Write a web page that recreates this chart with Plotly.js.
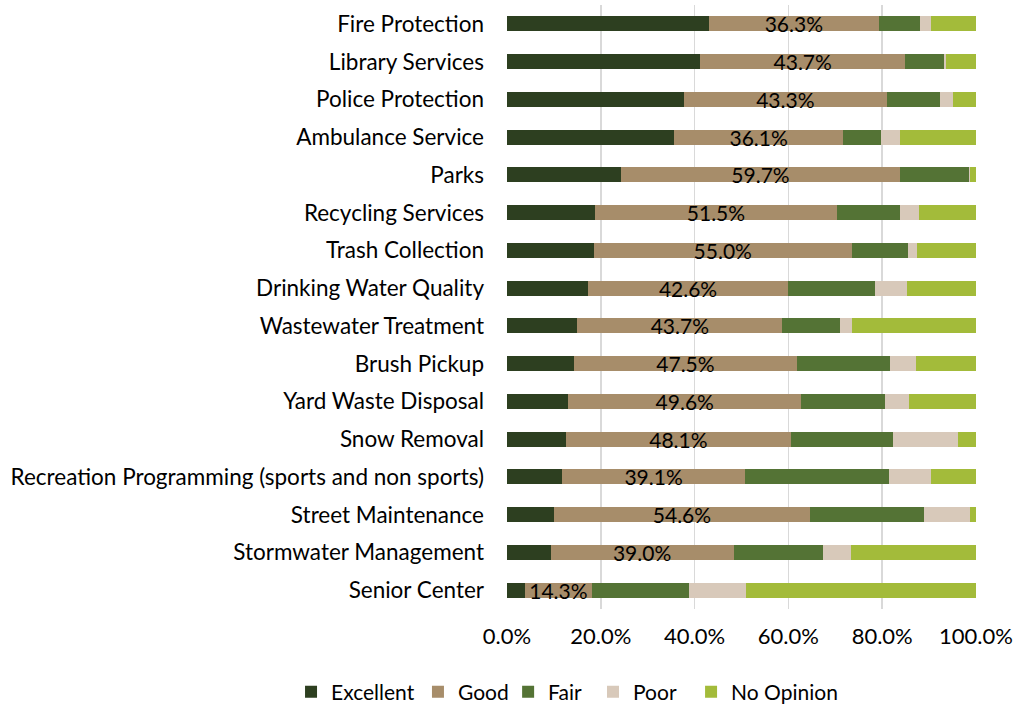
<!DOCTYPE html>
<html><head><meta charset="utf-8">
<script src="https://cdn.plot.ly/plotly-3.0.1.min.js"></script>
<style>body{margin:0;background:#fff}#chart{width:1013px;height:704px}</style>
</head><body><div id="chart"></div>
<script>
const categories = ["Fire Protection","Library Services","Police Protection","Ambulance Service","Parks","Recycling Services","Trash Collection","Drinking Water Quality","Wastewater Treatment","Brush Pickup","Yard Waste Disposal","Snow Removal","Recreation Programming (sports and non sports)","Street Maintenance","Stormwater Management","Senior Center"];
const excellent = [43.0,41.2,37.7,35.6,24.2,18.8,18.5,17.3,15.0,14.3,13.1,12.5,11.7,10.0,9.3,3.8];
const good      = [36.3,43.7,43.3,36.1,59.7,51.5,55.0,42.6,43.7,47.5,49.6,48.1,39.1,54.6,39.0,14.3];
const fair      = [8.8,8.3,11.4,8.1,14.5,13.4,12.1,18.6,12.2,19.9,18.0,21.8,30.6,24.4,19.0,20.6];
const poor      = [2.2,0.5,2.6,3.9,0.3,4.2,1.8,6.8,2.7,5.6,5.1,13.8,9.1,9.7,6.0,12.3];
const noOpinion = [9.7,6.3,5.0,16.3,1.3,12.1,12.5,14.7,26.4,12.7,14.2,3.8,9.5,1.2,26.7,49.0];
const seriesNames = ["Excellent","Good","Fair","Poor","No Opinion"];
const tickValues = [0,20,40,60,80,100];
const tickLabels = ["0.0%","20.0%","40.0%","60.0%","80.0%","100.0%"];
const colors = ["#2d3f20","#a78d6a","#547335","#d8c9ba","#a3bb3a"];
const FONT = "Lato, 'Open Sans', sans-serif";
const series = [excellent, good, fair, poor, noOpinion];
const legendIds = ['legend','legend2','legend3','legend4','legend5'];
const legendX = [0.2873, 0.4126, 0.5016, 0.5854, 0.6822];
const traces = series.map((vals, i) => {
  const t = {
    type: 'bar', orientation: 'h', name: seriesNames[i],
    x: vals, y: categories, width: 0.4,
    marker: {color: colors[i], line: {width: 0}},
    hoverinfo: 'x+y+name', legend: legendIds[i]
  };
  if (i === 1) {
    t.texttemplate = '%{x:.1f}%';
    t.textposition = 'inside';
    t.insidetextanchor = 'middle';
    t.constraintext = 'none';
    t.textfont = {family: FONT, size: 21, color: '#000'};
  } else {
    t.textposition = 'none';
  }
  return t;
});
const layout = {
  width: 1013, height: 704,
  barmode: 'stack',
  margin: {l: 507, r: 37, t: 5, b: 95},
  paper_bgcolor: '#fff', plot_bgcolor: '#fff',
  font: {family: FONT, size: 22, color: '#000'},
  xaxis: {range: [0, 100], tickvals: tickValues, ticktext: tickLabels,
          showgrid: true, gridcolor: '#d9d9d9', gridwidth: 1.5, zeroline: false,
          showline: false, ticks: '', ticklabelstandoff: 12,
          tickfont: {family: FONT, size: 22, color: '#000'}},
  yaxis: {type: 'category', categoryorder: 'array', categoryarray: categories, autorange: 'reversed',
          showgrid: false, zeroline: false, showline: false, ticks: '', ticklabelstandoff: 22,
          tickfont: {family: FONT, size: 22.5, color: '#000'}},
  showlegend: true
};
legendIds.forEach((id, i) => {
  layout[id] = {orientation: 'h', xref: 'container', yref: 'container', x: legendX[i], xanchor: 'left',
                y: 0.017, yanchor: 'middle', font: {family: FONT, size: 21, color: '#000'},
                bgcolor: 'rgba(0,0,0,0)'};
});
Plotly.newPlot('chart', traces, layout, {displayModeBar: false, staticPlot: true});
</script></body></html>
